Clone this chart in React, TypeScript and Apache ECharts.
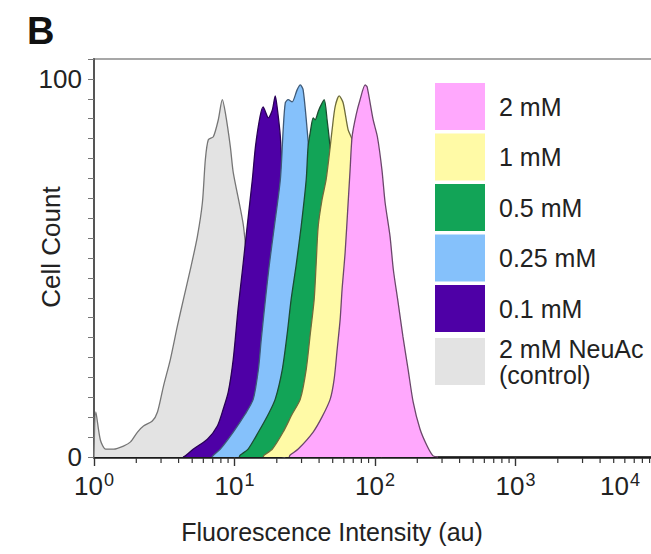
import React, { useEffect, useRef } from 'react';
import * as echarts from 'echarts';

const FONT = '"Liberation Sans", Arial, Helvetica, sans-serif';

// Series (drawn back to front)
const seriesNames = ['2 mM NeuAc\n(control)', '0.1 mM', '0.25 mM', '0.5 mM', '1 mM', '2 mM'];
const fillColors = ['#e3e3e3', '#4e00a6', '#85c1fb', '#12a457', '#fffaa6', '#ffa8fd'];
const lineColors = ['#767676', '#2a0058', '#3e5a78', '#1c4d31', '#6e6c3c', '#6b476b'];

// Legend order (top to bottom)
const legendOrder = ['2 mM', '1 mM', '0.5 mM', '0.25 mM', '0.1 mM', '2 mM NeuAc\n(control)'];

// [fluorescence intensity (au), cell count]
const controlData = [
  [1, 0], [1.03, 11.9], [1.11, 4.5], [1.21, 2.1], [1.38, 2.1], [1.62, 2.9], [1.82, 4.0],
  [2.04, 6.6], [2.25, 8.2], [2.6, 9.5], [2.83, 11.9], [3.12, 18.7], [3.5, 25.9], [3.92, 34.6],
  [4.33, 41.7], [4.85, 49.6], [5.44, 58.3], [5.91, 67.3], [6.2, 78.6], [6.51, 83.9], [7.07, 84.7],
  [7.67, 89.2], [8.19, 94.5], [8.61, 91.0], [9.34, 82.1], [9.8, 75.2], [11.6, 60.9], [12.9, 41.7],
  [14.8, 20.6], [16.6, 7.4], [19.5, 0.8], [23, 0],
];
const data01 = [
  [4.3, 0], [4.47, 0.3], [5.1, 2.1], [6.41, 4.7], [7.55, 8.2], [8.32, 12.7], [9.03, 17.2], [9.8, 25.9],
  [10.6, 39.1], [11.4, 49.6], [12.3, 60.9], [13.4, 73.4], [14.1, 82.1], [15.2, 90.0], [16.0, 92.6],
  [16.6, 91.3], [17.4, 89.7], [18.6, 91.8], [19.5, 95.5], [20.1, 92.6], [21.2, 84.7], [22.2, 68.1],
  [23.7, 47.0], [25.7, 25.9], [27.9, 10.0], [31.9, 2.1], [37.5, 0],
];
const data025 = [
  [6.9, 0], [7.1, 0.5], [7.93, 2.1], [9.8, 6.6], [11.9, 11.3], [13.6, 15.3], [14.8, 23.2], [15.5, 31.1],
  [16.6, 41.7], [17.7, 50.9], [19.2, 60.9], [21.2, 73.4], [22.2, 86.5], [23.0, 93.7], [24.1, 94.5],
  [25.7, 93.9], [27.9, 97.1], [29.4, 98.4], [30.8, 97.1], [32.9, 86.5], [34.6, 76.0], [36.9, 54.9],
  [40.1, 31.1], [44.2, 12.7], [50.3, 2.6], [59.3, 0],
];
const data05 = [
  [10.8, 0], [11.0, 0.5], [12.5, 2.1], [14.8, 6.6], [17.4, 11.3], [19.5, 15.3], [21.9, 23.2], [23.7, 32.5],
  [25.3, 41.7], [27.5, 50.9], [29.8, 60.9], [32.4, 73.4], [33.4, 82.1], [34.6, 85.8], [36.3, 89.7],
  [37.5, 89.2], [39.4, 91.3], [40.7, 92.6], [43.5, 94.5], [45.6, 89.2], [48.0, 81.3], [51.2, 62.8],
  [55.6, 36.4], [61.3, 15.3], [68.7, 3.4], [80.9, 0],
];
const data1 = [
  [16.0, 0], [16.3, 0.5], [18.6, 2.1], [22.2, 6.6], [25.7, 11.3], [29.4, 15.3], [32.4, 23.2], [34.6, 32.5],
  [36.9, 41.7], [38.1, 50.9], [39.4, 60.9], [42.0, 68.1], [44.9, 73.4], [48.0, 82.1], [49.5, 86.5],
  [52.0, 92.6], [55.6, 95.5], [59.3, 93.7], [64.4, 86.5], [68.7, 83.9], [73.4, 68.1], [78.3, 41.7],
  [86.4, 15.3], [95.3, 3.4], [112, 0],
];
const data2 = [
  [24.5, 0], [24.9, 0.5], [28.4, 2.1], [36.3, 6.6], [42.0, 10.6], [48.0, 15.3], [51.2, 20.6], [53.8, 28.5],
  [56.5, 36.4], [58.3, 44.3], [61.3, 54.1], [64.4, 67.3], [66.5, 76.0], [68.7, 84.7], [73.4, 90.5],
  [78.3, 94.5], [85.1, 98.4], [87.9, 97.9], [97.0, 89.2], [104, 84.7], [112, 76.0], [118, 67.3],
  [128, 58.3], [135, 49.6], [146, 40.9], [158, 31.9], [172, 23.2], [187, 14.5], [209, 7.4],
  [235, 2.9], [259, 0.3], [281, 0],
];
const seriesData = [controlData, data01, data025, data05, data1, data2];

// Axes
const xMin = 1;
const xMax = 10000;
const xMinorTickValues = [
  2, 3, 4, 5, 6, 7, 8, 9,
  20, 30, 40, 50, 60, 70, 80, 90,
  200, 300, 400, 500, 600, 700, 800, 900,
  2000, 3000, 4000, 5000, 6000, 7000, 8000, 9000,
];
const yStep = 100 / 19;
const yMax = yStep * 20;
const yLabelValues = [0, 100];

const xTitle = 'Fluorescence Intensity (au)';
const yTitle = 'Cell Count';
const panelLabel = 'B';

export default function App() {
  const ref = useRef<HTMLDivElement>(null);

  useEffect(() => {
    if (!ref.current) return;
    const chart = echarts.init(ref.current, null, { renderer: 'svg' });

    const areaSeries = seriesNames.map((name, i) => ({
      name,
      type: 'line',
      xAxisIndex: 0,
      yAxisIndex: 0,
      data: seriesData[i],
      showSymbol: false,
      symbol: 'none',
      smooth: 0.25,
      z: 2 + i,
      itemStyle: { color: fillColors[i] },
      lineStyle: { color: lineColors[i], width: 1.3 },
      areaStyle: { color: fillColors[i], opacity: 1 },
    }));

    // minor ticks of the log axis, placed through the axis' own scale
    const minorTickSeries = {
      name: 'minorTicks',
      type: 'custom',
      xAxisIndex: 0,
      yAxisIndex: 0,
      silent: true,
      clip: false,
      z: 20,
      data: xMinorTickValues.map((v) => [v, 0]),
      renderItem: (_params: any, api: any) => {
        const p = api.coord([api.value(0), 0]);
        return {
          type: 'line',
          shape: { x1: p[0], y1: p[1] + 1, x2: p[0], y2: p[1] + 6 },
          style: { stroke: '#333', lineWidth: 1.2 },
        };
      },
    };

    const option = {
      animation: false,
      backgroundColor: '#ffffff',
      textStyle: { fontFamily: FONT },
      title: {
        text: panelLabel,
        left: 22,
        top: 7,
        textStyle: { fontSize: 38, fontWeight: 'bold', color: '#111', fontFamily: FONT },
      },
      grid: {
        left: 94,
        top: 59,
        right: -5,
        bottom: 97,
        show: true,
        borderColor: '#8a8a8a',
        borderWidth: 1.5,
        backgroundColor: 'transparent',
        containLabel: false,
        outerBoundsMode: 'none',
      },
      legend: {
        data: legendOrder,
        orient: 'vertical',
        left: 435,
        top: 83,
        padding: 0,
        icon: 'rect',
        symbolKeepAspect: false,
        itemWidth: 50,
        itemHeight: 47,
        itemGap: 3.5,
        selectedMode: false,
        itemStyle: { borderWidth: 0 },
        textStyle: { fontSize: 25, color: '#222', fontFamily: FONT, lineHeight: 26, padding: [0, 0, 0, 9] },
      },
      xAxis: [
        {
          type: 'log',
          logBase: 10,
          min: xMin,
          max: xMax,
          position: 'bottom',
          name: xTitle,
          nameLocation: 'middle',
          nameGap: 62,
          nameMoveOverlap: false,
          nameTextStyle: { fontSize: 25, color: '#222', fontFamily: FONT, padding: [0, 86, 0, 0] },
          axisLine: { show: true, lineStyle: { color: '#1a1a1a', width: 2.5 } },
          axisTick: { show: true, length: 9, lineStyle: { color: '#333', width: 1.4 } },
          minorTick: { show: false },
          splitLine: { show: false },
          axisLabel: {
            margin: 14,
            color: '#222',
            formatter: (v: number) => {
              const e = Math.round(Math.log10(v));
              return e === 4 ? `{b4|10}{s4|${e}}` : `{b|10}{s|${e}}`;
            },
            rich: {
              b: { fontSize: 26, lineHeight: 28, verticalAlign: 'bottom', color: '#222', fontFamily: FONT },
              s: { fontSize: 18, lineHeight: 18, verticalAlign: 'top', color: '#222', fontFamily: FONT, padding: [0, 0, 0, 1] },
              b4: { fontSize: 26, lineHeight: 28, verticalAlign: 'bottom', color: '#222', fontFamily: FONT },
              s4: { fontSize: 18, lineHeight: 18, verticalAlign: 'top', color: '#222', fontFamily: FONT, padding: [0, 72, 0, 1] },
            },
          },
        },
      ],
      yAxis: {
        type: 'value',
        min: 0,
        max: yMax,
        interval: yStep,
        name: yTitle,
        nameLocation: 'middle',
        nameGap: 30,
        nameMoveOverlap: false,
        nameRotate: 90,
        nameTextStyle: { fontSize: 26, color: '#222', fontFamily: FONT, padding: [0, 0, 0, 22] },
        axisLine: { show: true, lineStyle: { color: '#555', width: 2 } },
        axisTick: { show: true, length: 6, lineStyle: { color: '#777', width: 1 } },
        splitLine: { show: false },
        axisLabel: {
          fontSize: 26,
          margin: 12,
          color: '#222',
          fontFamily: FONT,
          formatter: (v: number) => {
            const hit = yLabelValues.find((t) => Math.abs(v - t) < 0.01);
            return hit === undefined ? '' : String(hit);
          },
        },
      },
      series: [...areaSeries, minorTickSeries],
    };

    chart.setOption(option as any);
    return () => chart.dispose();
  }, []);

  return (
    <div
      ref={ref}
      style={{ position: 'fixed', left: 0, top: 0, width: 651, height: 554, background: '#fff' }}
    />
  );
}
